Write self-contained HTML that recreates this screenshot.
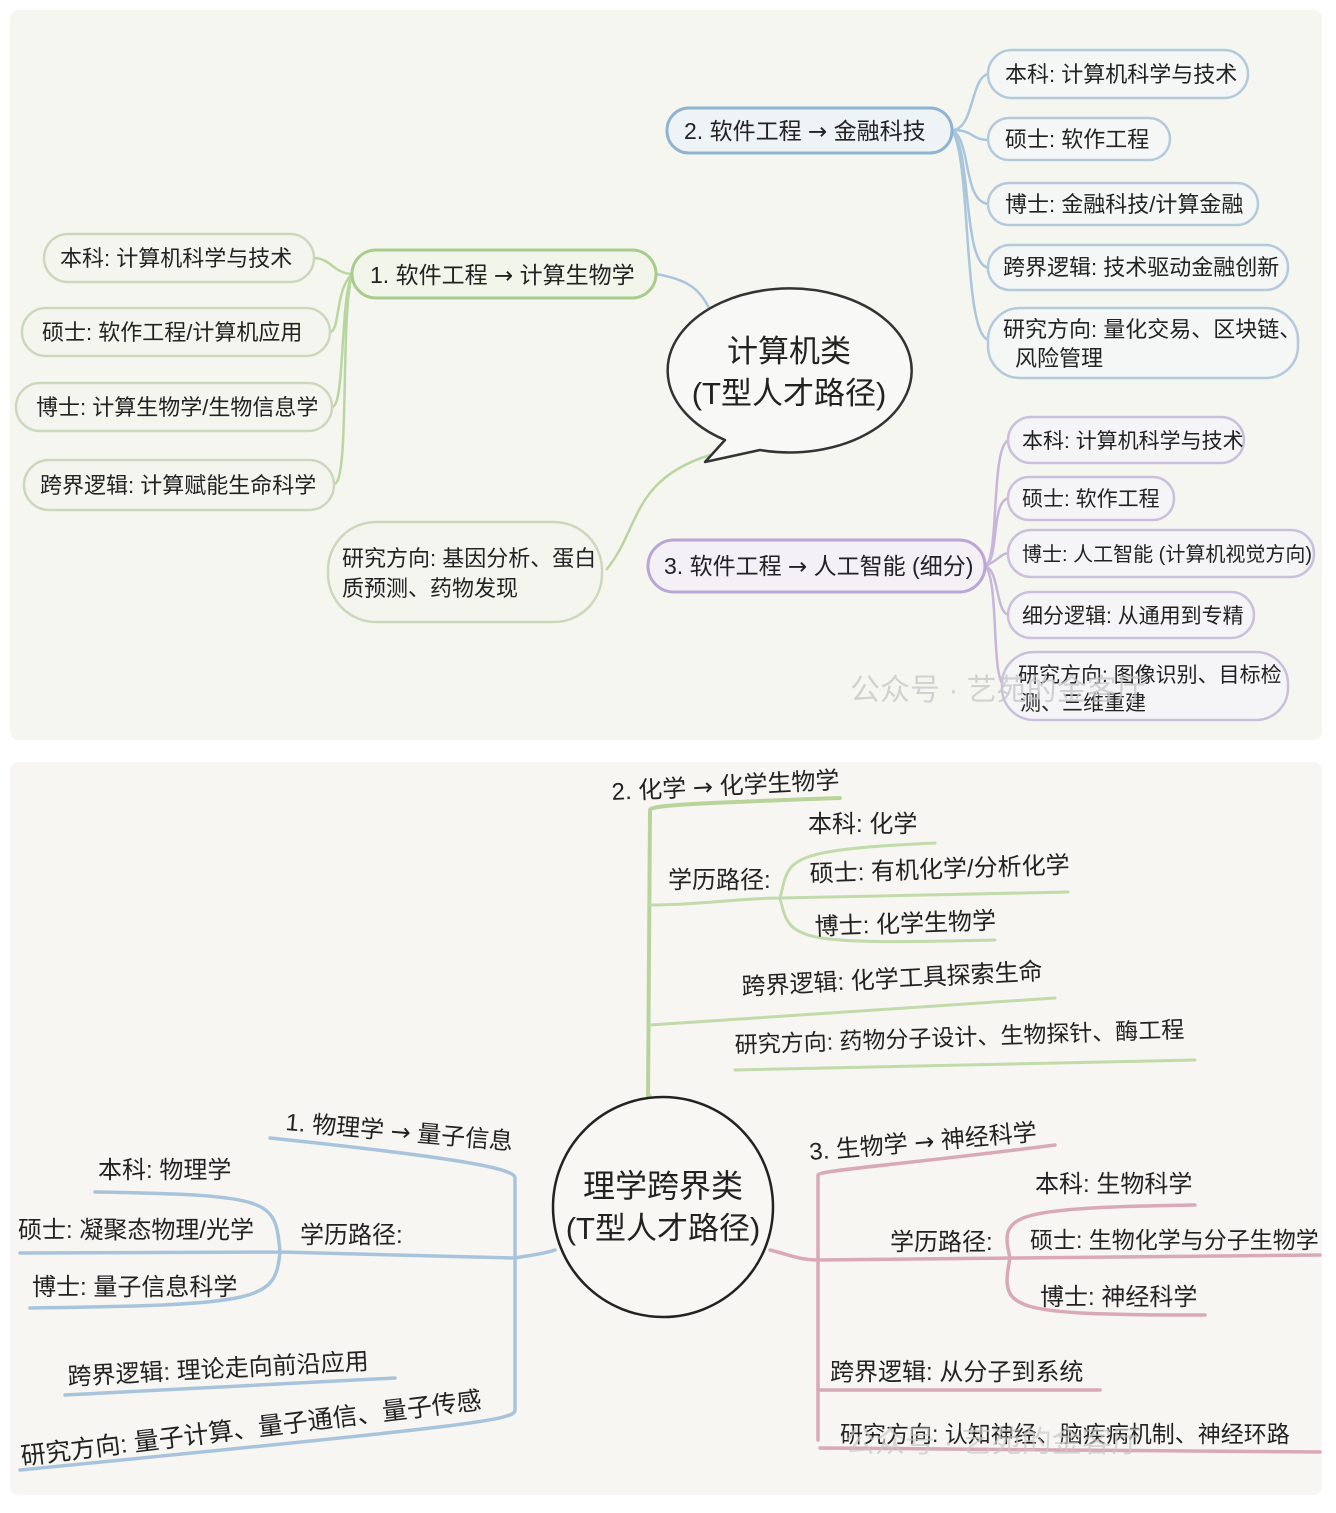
<!DOCTYPE html>
<html><head><meta charset="utf-8"><style>
html,body{margin:0;padding:0;background:#fff;}
svg{display:block;}
text{font-family:"Liberation Sans","Noto Sans CJK SC",sans-serif;fill:#222;}
.ar{font-family:"DejaVu Sans",sans-serif;}
</style></head><body>
<svg width="1336" height="1513" viewBox="0 0 1336 1513" xmlns="http://www.w3.org/2000/svg">
<rect x="10" y="10" width="1312" height="730" rx="8" fill="#f6f6f1"/>
<rect x="10" y="762" width="1312" height="733" rx="8" fill="#f7f6f2"/>

<g fill="none" stroke-width="2.5">
<path d="M952 130 C975 130 970 74 990 74 M952 130 C975 130 970 140 990 140 M952 130 C972 140 962 204 990 204 M952 130 C972 150 962 268 990 268 M952 130 C972 160 962 340 990 340 M710 310 C700 290 690 280 656 274" stroke="#a9c6dc"/>
<path d="M352 274 C335 274 330 258 314 258 M352 274 C335 290 340 332 330 332 M352 274 C340 300 345 407 332 407 M352 274 C340 320 350 484 334 484 M606 570 C640 530 630 480 710 455" stroke="#b9d6a0"/>
<path d="M985 566 C1000 560 990 440 1010 440 M985 566 C1000 560 990 498 1010 498 M985 566 C1000 560 1000 553 1010 553 M985 566 C1000 570 995 615 1010 615 M985 566 C1000 580 990 686 1006 686" stroke="#c7b6da"/>
</g>
<g stroke-width="2.5">
<rect x="667" y="108" width="285" height="45" rx="22" fill="#eef3f6" stroke="#8fb3d0" stroke-width="3"/>
<rect x="988" y="50" width="260" height="48" rx="24" fill="#f5f7f6" stroke="#b3cadb"/>
<rect x="988" y="118" width="182" height="42" rx="21" fill="#f5f7f6" stroke="#b3cadb"/>
<rect x="988" y="183" width="270" height="42" rx="21" fill="#f5f7f6" stroke="#b3cadb"/>
<rect x="988" y="245" width="300" height="45" rx="22" fill="#f5f7f6" stroke="#b3cadb"/>
<rect x="988" y="308" width="310" height="70" rx="32" fill="#f5f7f6" stroke="#b3cadb"/>
<rect x="352" y="250" width="304" height="48" rx="24" fill="#f1f5ea" stroke="#a8cc8c" stroke-width="3"/>
<rect x="44" y="234" width="270" height="48" rx="24" fill="#f5f5f0" stroke="#ccd8bc"/>
<rect x="22" y="308" width="308" height="48" rx="24" fill="#f5f5f0" stroke="#ccd8bc"/>
<rect x="16" y="383" width="316" height="48" rx="24" fill="#f5f5f0" stroke="#ccd8bc"/>
<rect x="24" y="460" width="310" height="50" rx="25" fill="#f5f5f0" stroke="#ccd8bc"/>
<rect x="328" y="522" width="274" height="100" rx="48" fill="#f5f5f0" stroke="#ccd8bc"/>
<rect x="648" y="540" width="337" height="52" rx="26" fill="#f3f0f6" stroke="#b9a6d4" stroke-width="3"/>
<rect x="1008" y="417" width="236" height="46" rx="23" fill="#f5f4f6" stroke="#cbbfdc"/>
<rect x="1008" y="477" width="166" height="43" rx="21" fill="#f5f4f6" stroke="#cbbfdc"/>
<rect x="1008" y="530" width="306" height="47" rx="23" fill="#f5f4f6" stroke="#cbbfdc"/>
<rect x="1008" y="592" width="246" height="46" rx="23" fill="#f5f4f6" stroke="#cbbfdc"/>
<rect x="1002" y="652" width="286" height="68" rx="32" fill="#f5f4f6" stroke="#cbbfdc"/>
</g>
<path d="M725 440 A122 82 0 1 1 760 450 L705 462 Z" fill="#f8f8f6" stroke="#333" stroke-width="2.5" stroke-linejoin="round"/>
<text x="789" y="362" font-size="31" text-anchor="middle">计算机类</text>
<text x="789" y="404" font-size="31" text-anchor="middle">(T型人才路径)</text>

<g font-size="23">
<text x="684" y="139">2. 软件工程 <tspan class="ar">→</tspan> 金融科技</text>
<text x="1005" y="82" font-size="22">本科: 计算机科学与技术</text>
<text x="1005" y="147" font-size="22">硕士: 软作工程</text>
<text x="1005" y="212" font-size="22">博士: 金融科技/计算金融</text>
<text x="1003" y="275" font-size="22">跨界逻辑: 技术驱动金融创新</text>
<text x="1003" y="337" font-size="22">研究方向: 量化交易、区块链、</text>
<text x="1015" y="366" font-size="22">风险管理</text>
<text x="370" y="283">1. 软件工程 <tspan class="ar">→</tspan> 计算生物学</text>
<text x="60" y="266" font-size="22">本科: 计算机科学与技术</text>
<text x="42" y="340" font-size="22">硕士: 软作工程/计算机应用</text>
<text x="36" y="415" font-size="22">博士: 计算生物学/生物信息学</text>
<text x="40" y="493" font-size="22">跨界逻辑: 计算赋能生命科学</text>
<text x="342" y="566" font-size="22">研究方向: 基因分析、蛋白</text>
<text x="342" y="596" font-size="22">质预测、药物发现</text>
<text x="664" y="574">3. 软件工程 <tspan class="ar">→</tspan> 人工智能 (细分)</text>
<text x="1022" y="448" font-size="21">本科: 计算机科学与技术</text>
<text x="1022" y="506" font-size="21">硕士: 软作工程</text>
<text x="1022" y="561" font-size="20">博士: 人工智能 (计算机视觉方向)</text>
<text x="1022" y="623" font-size="21">细分逻辑: 从通用到专精</text>
<text x="1018" y="682" font-size="21">研究方向: 图像识别、目标检</text>
<text x="1020" y="710" font-size="21">测、三维重建</text>
</g>
<text x="850" y="700" font-size="30" style="fill:#c8c8c8;opacity:.8">公众号 · 艺苑的金客厅</text>

<g fill="none" stroke-linecap="round">
<path d="M648 1098 L650 810 C650 805 700 803 840 798" stroke="#b8d49a" stroke-width="4"/>
<path d="M650 905 C700 905 740 898 780 898 M780 898 C790 860 780 850 935 843 M780 898 L1068 892 M780 898 C790 940 790 945 995 940 M650 1025 L1055 998 M735 1070 L1195 1060 M650 1185 L650 1095" stroke="#c2dbaa" stroke-width="3"/>
<path d="M555 1250 C540 1255 530 1255 515 1258 L515 1178 C515 1170 480 1160 270 1138 M515 1258 L515 1410 C515 1420 480 1425 20 1470 M515 1258 L280 1252 L20 1253 M280 1252 C275 1200 275 1195 95 1192 M280 1252 C275 1300 265 1305 30 1308 M65 1395 L395 1378" stroke="#a8c4dc" stroke-width="3.5"/>
<path d="M770 1250 C790 1255 800 1260 818 1260 L1320 1255 M818 1260 L818 1175 C820 1170 900 1165 1055 1145 M818 1260 L818 1440 M1010 1258 C1000 1215 1005 1208 1195 1205 M1010 1258 C1000 1310 1005 1315 1205 1315 M820 1390 L1100 1390 M820 1448 L1320 1452" stroke="#d9a9b8" stroke-width="3.5"/>
</g>
<circle cx="663" cy="1207" r="110" fill="#f8f7f3" stroke="#222" stroke-width="2.5"/>
<text x="663" y="1197" font-size="32" text-anchor="middle">理学跨界类</text>
<text x="663" y="1239" font-size="31" text-anchor="middle">(T型人才路径)</text>
<g font-size="24">
<text x="612" y="800" transform="rotate(-3 612 800)">2. 化学 <tspan class="ar">→</tspan> 化学生物学</text>
<text x="808" y="832">本科: 化学</text>
<text x="668" y="888">学历路径:</text>
<text x="810" y="882" transform="rotate(-2 810 882)">硕士: 有机化学/分析化学</text>
<text x="815" y="935" transform="rotate(-2 815 935)">博士: 化学生物学</text>
<text x="742" y="995" transform="rotate(-3 742 995)">跨界逻辑: 化学工具探索生命</text>
<text x="735" y="1053" transform="rotate(-2 735 1053)" font-size="23">研究方向: 药物分子设计、生物探针、酶工程</text>
<text x="285" y="1130" transform="rotate(5 285 1130)">1. 物理学 <tspan class="ar">→</tspan> 量子信息</text>
<text x="98" y="1178">本科: 物理学</text>
<text x="18" y="1238">硕士: 凝聚态物理/光学</text>
<text x="300" y="1243">学历路径:</text>
<text x="32" y="1295">博士: 量子信息科学</text>
<text x="68" y="1385" transform="rotate(-3 68 1385)">跨界逻辑: 理论走向前沿应用</text>
<text x="22" y="1465" transform="rotate(-7 22 1465)" font-size="25">研究方向:  量子计算、量子通信、量子传感</text>
<text x="810" y="1160" transform="rotate(-5 810 1160)">3. 生物学 <tspan class="ar">→</tspan> 神经科学</text>
<text x="1035" y="1192">本科: 生物科学</text>
<text x="890" y="1250">学历路径:</text>
<text x="1030" y="1248" font-size="23">硕士: 生物化学与分子生物学</text>
<text x="1040" y="1305">博士: 神经科学</text>
<text x="830" y="1380">跨界逻辑: 从分子到系统</text>
<text x="840" y="1442" font-size="23">研究方向: 认知神经、脑疾病机制、神经环路</text>
</g>
<text x="845" y="1452" font-size="30" style="fill:#c8c8c8;opacity:.7">公众号 · 艺苑的金客厅</text>
</svg>
</body></html>
